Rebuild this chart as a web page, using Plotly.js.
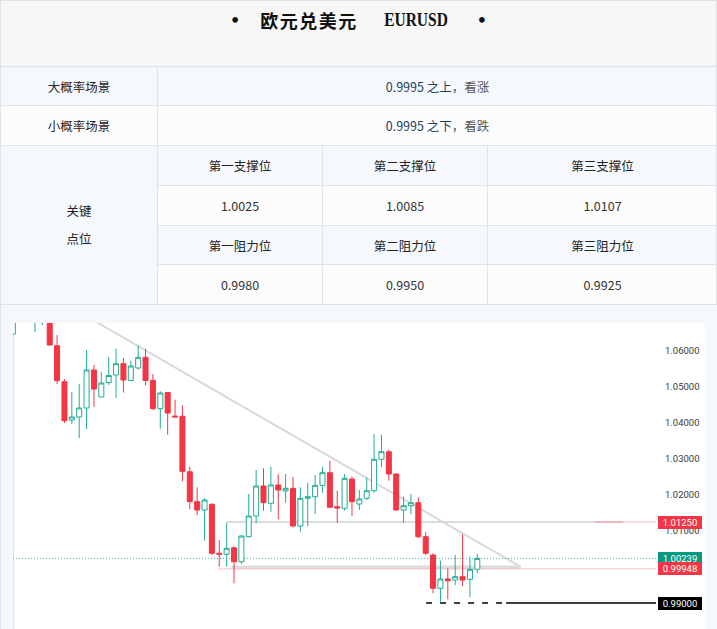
<!DOCTYPE html>
<html>
<head>
<meta charset="utf-8">
<script src="https://cdn.plot.ly/plotly-3.0.1.min.js"></script>
<style>
html,body{margin:0;padding:0;width:717px;height:629px;overflow:hidden;background:#f5f8fc;}
#wrap{position:relative;width:717px;height:629px;}
.cell{position:absolute;box-sizing:border-box;display:flex;align-items:center;justify-content:center;
  font-family:"Noto Sans CJK SC","Noto Sans",sans-serif;font-size:12.5px;color:#222;
  border-left:1px solid #dfe2e7;border-top:1px solid #dfe2e7;}
#title{position:absolute;left:0;top:0;width:717px;height:40px;display:flex;align-items:center;justify-content:center;color:#111;}
#title .dot{font-family:"DejaVu Sans";font-size:16px;font-weight:bold;}
#title .cn{font-family:"Noto Sans CJK SC";font-size:18px;font-weight:bold;letter-spacing:1.5px;margin-left:20px;margin-right:21px;}
#title .en{font-family:"Liberation Serif";font-size:18px;font-weight:bold;margin-right:24px;display:inline-block;transform:scaleX(0.86);}
.lvl{color:#23405f;}
.view{color:#555;}
#chartbox{position:absolute;left:13px;top:323px;width:692px;height:306px;background:#fff;}
#chart{position:absolute;left:0;top:0;width:692px;height:306px;}
</style>
</head>
<body>
<div id="wrap">
  <div id="chartbox"><div id="chart"></div></div>
</div>
<script>
// ---------- table content ----------
const pairName = '欧元兑美元';
const pairCode = 'EURUSD';
const scenarioLabels = ['大概率场景', '小概率场景'];
const scenarioLevels = ['0.9995', '0.9995'];
const scenarioDirs = ['之上', '之下'];
const scenarioViews = ['看涨', '看跌'];
const keyLabel = ['关键', '点位'];
const supportNames = ['第一支撑位', '第二支撑位', '第三支撑位'];
const supportVals = ['1.0025', '1.0085', '1.0107'];
const resistNames = ['第一阻力位', '第二阻力位', '第三阻力位'];
const resistVals = ['0.9980', '0.9950', '0.9925'];

// ---------- candle data ----------
const barIdx = [0,1,2,3,4,5,6,7,8,9,10,11,12,13,14,15,16,17,18,19,20,21,22,23,24,25,26,27,28,29,30,31,
  32,33,34,35,36,37,38,39,40,41,42,43,44,45,46,47,48,49,50,51,52,53,54,55,56,57,58,59,60,61,62,63];
const openP = [1.06472,1.0700,1.0715,1.0700,1.0695,1.0708,1.06147,1.05147,1.04083,1.04167,1.04417,1.05472,
  1.04722,1.05125,1.05333,1.05647,1.05181,1.05528,1.05825,1.05181,1.04397,1.04847,1.04194,1.04186,
  1.02647,1.01814,1.01583,1.01742,1.00381,1.00353,1.00536,1.00147,1.00842,1.01417,1.02250,1.01769,
  1.02278,1.02111,1.02186,1.01139,1.01908,1.01953,1.02269,1.02619,1.01675,1.01631,1.02444,1.01750,
  1.01908,1.02119,1.02992,1.03203,1.02583,1.01583,1.01703,1.01786,1.00842,1.00333,0.99408,0.99667,
  0.99639,0.99731,0.99658,0.99936];
const highP = [1.0712,1.0730,1.0735,1.0725,1.0718,1.0712,1.06444,1.05222,1.04861,1.05083,1.06028,1.05611,
  1.05417,1.05833,1.06064,1.05806,1.05731,1.06158,1.06064,1.05361,1.04881,1.04861,1.04647,1.04492,
  1.02786,1.02214,1.01908,1.01769,1.00750,1.01231,1.00564,1.00889,1.02028,1.02694,1.02742,1.02786,
  1.02575,1.02583,1.02508,1.02214,1.02342,1.02556,1.02786,1.02953,1.02119,1.02583,1.02508,1.02139,
  1.02481,1.03694,1.03667,1.03250,1.02603,1.01953,1.02028,1.01936,1.00972,1.00381,1.00175,0.99964,
  1.00333,1.00908,1.00286,1.00361];
const lowP = [1.0645,1.0685,1.0690,1.06528,1.06722,1.0615,1.05083,1.04000,1.03972,1.03583,1.03833,1.04444,
  1.04714,1.05056,1.04694,1.04847,1.05167,1.05481,1.05047,1.04369,1.03842,1.03675,1.04167,1.02381,
  1.01603,1.01444,1.00731,1.00333,1.00008,1.00008,0.99547,1.00083,1.00825,1.01214,1.01564,1.01536,
  1.01325,1.01786,1.01103,1.00981,1.01139,1.01472,1.02064,1.01658,1.01231,1.01564,1.01417,1.01583,
  1.01861,1.02064,1.02769,1.02397,1.01564,1.01231,1.01472,1.00797,1.00333,0.99269,0.99036,0.99103,
  0.99500,0.99472,0.99158,0.99825];
const closeP = [1.0700,1.0715,1.0700,1.0712,1.0710,1.06167,1.05175,1.04064,1.04167,1.04417,1.05472,1.04944,
  1.05111,1.05319,1.05647,1.05194,1.05583,1.05825,1.05181,1.04397,1.04833,1.04278,1.04167,1.02658,
  1.01814,1.01583,1.01861,1.00381,1.00353,1.00519,1.00147,1.00861,1.01417,1.02250,1.01786,1.02278,
  1.02139,1.02186,1.01139,1.01908,1.01953,1.02269,1.02619,1.01658,1.01639,1.02464,1.01814,1.01889,
  1.02119,1.02992,1.03203,1.02583,1.01583,1.01703,1.01786,1.00842,1.00381,0.99408,0.99667,0.99619,
  0.99731,0.99639,0.99936,1.00239];

// ---------- drawings (data coordinates) ----------
const trendX = [9.67, 68.93];
const trendY = [1.0700, 1.0000];
const zoneTop = 1.0125, zoneTopX = [29.05, 78.97];
const zoneBottom = 1.0000, zoneBottomX = [29.73, 68.93];
const lastPrice = 1.00239;
const pinkLevel = 0.99948, pinkLevelStart = 27.83;
const targetLevel = 0.99, targetDashX = [56.05, 66.9];
const priceTags = [1.0125, 1.00239, 0.99948, 0.99];
const yTickVals = [1.01, 1.02, 1.03, 1.04, 1.05, 1.06];
const xRange = [0.02, 87.24];
const yRange = [0.982778, 1.067778];

// ---------- build table ----------
const wrap = document.getElementById('wrap');
function cell(x0, y0, x1, y1, bg, html, extra) {
  const d = document.createElement('div');
  d.className = 'cell';
  d.style.left = x0 + 'px'; d.style.top = y0 + 'px';
  d.style.width = (x1 - x0) + 'px'; d.style.height = (y1 - y0) + 'px';
  d.style.background = bg;
  d.innerHTML = html;
  if (extra) Object.assign(d.style, extra);
  wrap.appendChild(d);
  return d;
}
const cols = [0, 157, 322, 487, 717];
const rows = [0, 66, 105, 145, 185, 225, 264, 304];
const blue = '#f5f8fc', white = '#fcfcfd';
cell(0, rows[0], 717, rows[1], '#f7f7f7', '');
const t = document.createElement('div');
t.id = 'title';
t.innerHTML = '<span class="dot">•</span><span class="cn">' + pairName + '</span><span class="en">' + pairCode + '</span><span class="dot">•</span>';
wrap.appendChild(t);
for (let i = 0; i < 2; i++) {
  const bg = i === 0 ? blue : white;
  cell(cols[0], rows[1 + i], cols[1], rows[2 + i], bg, scenarioLabels[i]);
  cell(cols[1], rows[1 + i], 717, rows[2 + i], bg,
    '<span class="lvl">' + scenarioLevels[i] + ' ' + scenarioDirs[i] + '</span><span class="view">，' + scenarioViews[i] + '</span>');
}
cell(cols[0], rows[3], cols[1], rows[7], blue,
  '<div style="text-align:center;line-height:28px;margin-top:0px">' + keyLabel[0] + '<br>' + keyLabel[1] + '</div>');
for (let j = 0; j < 3; j++) {
  cell(cols[1 + j], rows[3], cols[2 + j], rows[4], blue, supportNames[j]);
  cell(cols[1 + j], rows[4], cols[2 + j], rows[5], white, supportVals[j], {color: '#333'});
  cell(cols[1 + j], rows[5], cols[2 + j], rows[6], blue, resistNames[j]);
  cell(cols[1 + j], rows[6], cols[2 + j], rows[7], white, resistVals[j], {color: '#333'});
}
// outer borders
function line(x, y, w, h, c) {
  const d = document.createElement('div');
  Object.assign(d.style, {position: 'absolute', left: x + 'px', top: y + 'px', width: w + 'px', height: h + 'px', background: c});
  wrap.appendChild(d);
}
line(0, 304, 717, 1, '#dfe2e7');
line(716, 0, 1, 305, '#dfe2e7');
line(0, 304, 1, 325, '#dfe2e7');

// ---------- chart ----------
const candle = {
  type: 'candlestick',
  x: barIdx, open: openP, high: highP, low: lowP, close: closeP,
  increasing: {line: {color: '#22ab94', width: 1}, fillcolor: '#ffffff'},
  decreasing: {line: {color: '#f23645', width: 1}, fillcolor: '#f23645'},
  whiskerwidth: 0, hoverinfo: 'skip', showlegend: false
};

const shapes = [
  {type: 'line', xref: 'paper', yref: 'paper', x0: 0, x1: 0, y0: 0, y1: 1, line: {color: '#e2e5ea', width: 2}, layer: 'below'},
  {type: 'line', xref: 'x', yref: 'y', x0: trendX[0], y0: trendY[0], x1: trendX[1], y1: trendY[1], line: {color: '#d9d9d9', width: 2}, layer: 'below'},
  {type: 'line', xref: 'x', yref: 'y', x0: zoneTopX[0], x1: zoneTopX[1], y0: zoneTop, y1: zoneTop, line: {color: '#dcdcdc', width: 2}, layer: 'below'},
  {type: 'line', xref: 'x', yref: 'y', x0: zoneTopX[1], x1: xRange[1], y0: zoneTop, y1: zoneTop, line: {color: 'rgba(242,54,69,0.35)', width: 1}, layer: 'below'},
  {type: 'line', xref: 'x', yref: 'y', x0: zoneTopX[1], x1: zoneTopX[1] + 3.8, y0: zoneTop, y1: zoneTop, line: {color: 'rgba(200,120,125,0.35)', width: 2}, layer: 'below'},
  {type: 'line', xref: 'x', yref: 'y', x0: zoneBottomX[0], x1: zoneBottomX[1], y0: zoneBottom, y1: zoneBottom, line: {color: '#dcdcdc', width: 3}, layer: 'below'},
  {type: 'line', xref: 'x', yref: 'y', x0: pinkLevelStart, x1: xRange[1], y0: pinkLevel, y1: pinkLevel, line: {color: 'rgba(242,54,69,0.3)', width: 1}, layer: 'below'},
  {type: 'line', xref: 'x', yref: 'y', x0: xRange[0], x1: xRange[1], y0: lastPrice, y1: lastPrice, line: {color: 'rgba(8,153,129,0.7)', width: 1, dash: '1px,2px'}, layer: 'below'},
  {type: 'line', xref: 'x', yref: 'y', x0: targetDashX[0], x1: targetDashX[1], y0: targetLevel, y1: targetLevel, line: {color: '#000', width: 1.5, dash: '6px,8px'}},
  {type: 'line', xref: 'x', yref: 'y', x0: targetDashX[1], x1: xRange[1], y0: targetLevel, y1: targetLevel, line: {color: '#000', width: 1.5}}
];

const tagColors = ['#f23645', '#089981', '#f23645', '#000000'];
const annotations = priceTags.map((v, i) => ({
  xref: 'paper', x: 1, xanchor: 'left', xshift: 2,
  yref: 'y', y: v, yanchor: 'middle',
  text: v.toFixed(5), showarrow: false,
  font: {family: 'Roboto', size: 9.5, color: '#ffffff'},
  bgcolor: tagColors[i], bordercolor: tagColors[i], borderwidth: 1, borderpad: 1,
  width: 40, height: 9
}));

const layout = {
  width: 692, height: 306,
  margin: {l: 0, r: 49, t: 0, b: 0},
  paper_bgcolor: '#ffffff', plot_bgcolor: '#ffffff',
  showlegend: false,
  boxgap: 0.32, boxgroupgap: 0,
  xaxis: {range: xRange, showgrid: false, zeroline: false, showticklabels: false, ticks: '', showline: false,
          rangeslider: {visible: false}, fixedrange: true, automargin: false},
  yaxis: {range: yRange, side: 'right', showgrid: false, zeroline: false, showline: false,
          tickvals: yTickVals, tickformat: '.5f', ticks: '', ticklabelstandoff: 8,
          tickfont: {family: 'Roboto', size: 9.5, color: '#3a3a3a'}, fixedrange: true, automargin: false},
  shapes: shapes,
  annotations: annotations,
  hovermode: false
};

Plotly.newPlot('chart', [candle], layout, {displayModeBar: false, staticPlot: true});
</script>
</body>
</html>
